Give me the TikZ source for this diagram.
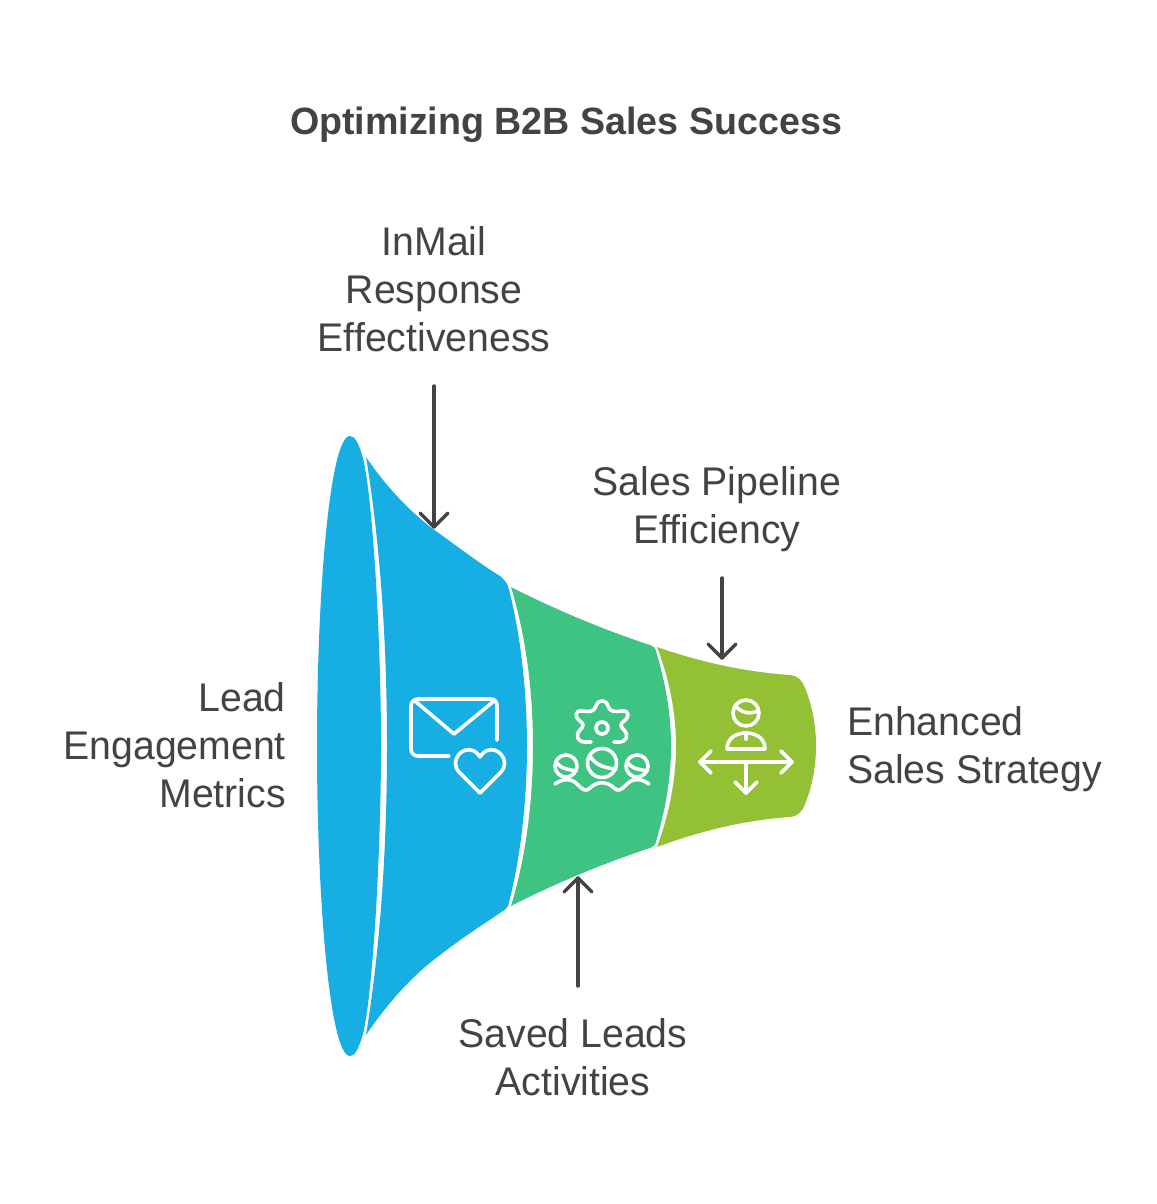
\documentclass[tikz,border=0pt]{standalone}
\usepackage{fontspec}
\setmainfont[FakeStretch=0.98]{Liberation Sans}
\newfontfamily\titlefont[FakeStretch=0.99]{Liberation Sans Bold}
\definecolor{ink}{HTML}{434343}
\definecolor{fblue}{HTML}{17AEE3}
\definecolor{fgreen}{HTML}{3EC383}
\definecolor{flime}{HTML}{93C034}
\tikzset{
 lab/.style={text=ink,font=\fontsize{40}{48}\selectfont,inner sep=0pt,align=#1},
 lab/.default=center,
 ttl/.style={text=ink,font=\titlefont\fontsize{38}{48}\selectfont,inner sep=0pt},
 arr/.style={draw=ink,line width=3.4pt,line cap=round,line join=round},
 ico/.style={draw=white,line width=3.6pt,line cap=round,line join=round},
}
\begin{document}
\begin{tikzpicture}[x=1pt,y=-1pt]
\useasboundingbox (0,0) rectangle (1156,1204);
\fill[white] (0,0) rectangle (1156,1204);
% funnel
\fill[fblue] (350,436) .. controls (330,436) and (317,590) .. (317,746) .. controls (317,902) and (330,1056) .. (350,1056) .. controls (355,1056) and (359,1048) .. (363,1034) .. controls (373,992) and (381,852) .. (381,746) .. controls (381,640) and (373,500) .. (363,458) .. controls (359,444) and (355,436) .. (350,436) -- cycle;
\fill[fblue] (366,457) .. controls (385,485) and (410,513) .. (440,534) .. controls (462,550) and (482,565) .. (500,576) .. controls (505,580) and (507,584) .. (508,586) .. controls (520,630) and (527,690) .. (527,746) .. controls (527,802) and (520,862) .. (508,906) .. controls (507,908) and (505,910) .. (500,913) .. controls (482,925) and (462,938) .. (440,955) .. controls (410,977) and (385,1007) .. (366,1035) .. controls (380,950) and (387,850) .. (387,746) .. controls (387,642) and (380,542) .. (366,457) -- cycle;
\fill[fgreen] (511,587) .. controls (560,612) and (610,632) .. (650,645) .. controls (652,646) and (654,647) .. (655,648) .. controls (665,680) and (671,712) .. (671,746) .. controls (671,780) and (665,812) .. (655,845) .. controls (654,846) and (652,847) .. (650,848) .. controls (610,861) and (560,881) .. (511,906) .. controls (525,860) and (533,805) .. (533,746) .. controls (533,688) and (525,633) .. (511,587) -- cycle;
\fill[flime] (657,647) .. controls (700,662) and (745,672) .. (790,675) .. controls (798,676) and (802,680) .. (805,688) .. controls (812,705) and (816,725) .. (816,746) .. controls (816,767) and (812,787) .. (805,804) .. controls (802,812) and (798,816) .. (790,817) .. controls (745,820) and (700,831) .. (657,847) .. controls (669,815) and (676,780) .. (676,746) .. controls (676,712) and (669,678) .. (657,647) -- cycle;
% title and labels
\node[ttl] (title) at (566,125) {Optimizing B2B Sales Success};
\node[lab] (inmail) at (434,289) {InMail\\Response\\Effectiveness};
\node[lab=right,anchor=east] (lead) at (286,745) {Lead\\Engagement\\Metrics};
\node[lab] (pipe) at (717,509) {Sales Pipeline\\Efficiency};
\node[lab=left,anchor=west] (strategy) at (847,749) {Enhanced\\Sales Strategy};
\node[lab] (saved) at (573,1057) {Saved Leads\\Activities};
% arrows
\coordinate (a1) at (434,386); \coordinate (a2) at (434,527);
\coordinate (b1) at (722,578); \coordinate (b2) at (722,658);
\coordinate (c1) at (578,986); \coordinate (c2) at (578,878);
\draw[arr] (a1) -- (a2);
\draw[arr] (420,513) -- (a2) -- (448,513);
\draw[arr] (b1) -- (b2);
\draw[arr] (708,644) -- (b2) -- (736,644);
\draw[arr] (c1) -- (c2);
\draw[arr] (564,892) -- (c2) -- (592,892);
% mail icon
\draw[ico] (497,740) -- (497,706) .. controls (497,702) and (495,699) .. (491,699) -- (418,699) .. controls (414,699) and (411,702) .. (411,706) -- (411,749) .. controls (411,753) and (414,756) .. (418,756) -- (449,756);
\draw[ico] (415,701) -- (454,734) -- (494,701);
\draw[ico] (480,793) -- (459,772) .. controls (449,761) and (462,745) .. (474,751) .. controls (477,753) and (479,755) .. (480,757) .. controls (481,755) and (483,753) .. (486,751) .. controls (498,745) and (511,761) .. (501,772) -- cycle;
% gear/team icon
\draw[ico] (591,742) -- (585,742) .. controls (577,742) and (575,735) .. (580,730) .. controls (584,726) and (584,724) .. (580,721) .. controls (574,717) and (575,710) .. (582,711) .. controls (590,712) and (594,712) .. (596,706) .. controls (598,699) and (606,699) .. (608,706) .. controls (610,712) and (614,712) .. (622,711) .. controls (629,710) and (630,717) .. (624,721) .. controls (620,724) and (620,726) .. (624,730) .. controls (629,735) and (627,742) .. (619,742) -- (614,742);
\draw[ico] (602,728) circle (6);
\draw[ico] (602,763) circle (14.5);
\draw[ico] (590,756) .. controls (596,766) and (606,768) .. (616,769);
\draw[ico] (566,766) circle (11);
\draw[ico] (556,762) .. controls (562,770) and (569,769) .. (576,771);
\draw[ico] (637,766) circle (11);
\draw[ico] (627,762) .. controls (633,770) and (640,769) .. (647,771);
\draw[ico] (555,784) .. controls (563,778) and (572,778) .. (578,785) .. controls (583,790) and (586,792) .. (590,788) .. controls (597,781) and (607,781) .. (614,788) .. controls (618,792) and (621,790) .. (626,785) .. controls (632,778) and (641,778) .. (649,784);
% person/arrows icon
\draw[ico] (746,713) circle (13);
\draw[ico] (735,705) .. controls (741,714) and (751,714) .. (758,711);
\draw[ico] (727,749) .. controls (727,739) and (735,733) .. (746,733) .. controls (757,733) and (765,739) .. (765,749) -- cycle;
\draw[ico] (746,733) -- (746,739);
\draw[ico] (700,762) -- (792,762);
\draw[ico] (711,751) -- (700,762) -- (711,773);
\draw[ico] (781,751) -- (792,762) -- (781,773);
\draw[ico] (746,762) -- (746,793);
\draw[ico] (735,782) -- (746,793) -- (757,782);
\end{tikzpicture}
\end{document}
